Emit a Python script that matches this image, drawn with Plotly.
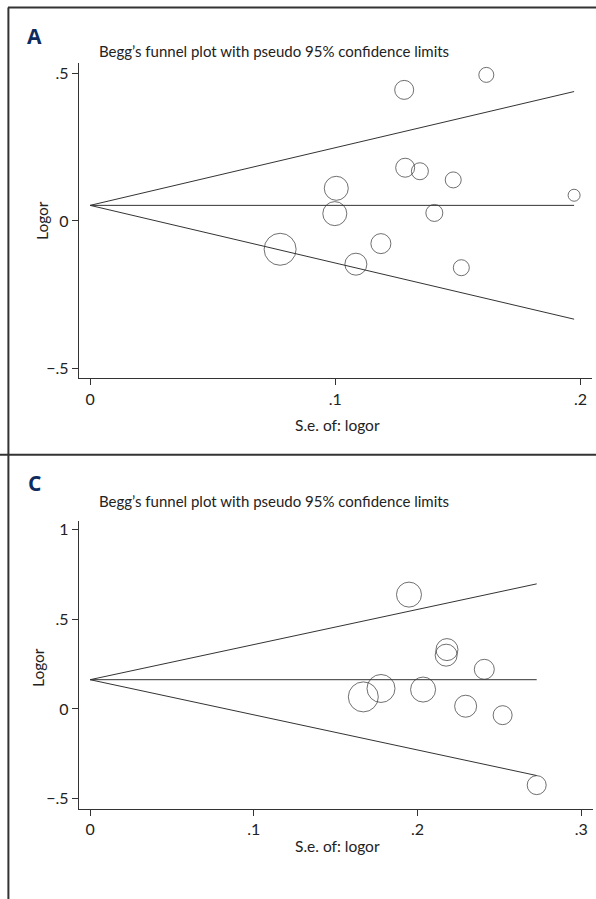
import plotly.graph_objects as go

# ---------------- data ----------------
# Panel A
a_se = [0.1616, 0.1281, 0.1285, 0.1345, 0.1481, 0.1974, 0.1004, 0.0998, 0.1404, 0.0775, 0.1186, 0.1084, 0.1514]
a_logor = [0.4966, 0.4456, 0.181, 0.169, 0.1395, 0.0874, 0.111, 0.0249, 0.0272, -0.0963, -0.0771, -0.147, -0.159]
a_weight = [15, 19, 19, 17, 16, 12, 24, 24, 17, 32, 20, 22, 16]
a_funnel_se = [0.0, 0.1974]
a_center = [0.053, 0.053]
a_upper = [0.053, 0.440]
a_lower = [0.053, -0.334]
a_xticks = [0.0, 0.1, 0.2]
a_xticktext = ["0", ".1", ".2"]
a_yticks = [-0.5, 0.0, 0.5]
a_yticktext = ["\u2212.5", "0", ".5"]

# Panel C
c_se = [0.1948, 0.2180, 0.2175, 0.2408, 0.1777, 0.1669, 0.2034, 0.2294, 0.2520, 0.2728]
c_logor = [0.638, 0.331, 0.300, 0.221, 0.114, 0.067, 0.108, 0.015, -0.035, -0.4255]
c_weight = [25, 22, 22, 20, 28, 30, 25, 22, 19, 19]
c_funnel_se = [0.0, 0.2728]
c_center = [0.163, 0.163]
c_upper = [0.163, 0.698]
c_lower = [0.163, -0.372]
c_xticks = [0.0, 0.1, 0.2, 0.3]
c_xticktext = ["0", ".1", ".2", ".3"]
c_yticks = [-0.5, 0.0, 0.5, 1.0]
c_yticktext = ["\u2212.5", "0", ".5", "1"]

title_text = "Begg\u2019s funnel plot with pseudo 95% confidence limits"
xtitle = "S.e. of: logor"
ytitle = "Logor"

# ---------------- styling ----------------
W, H = 596, 899
FONT = "Lato, Noto Sans, sans-serif"
INK = "#333333"
TXT = "#222222"
NAVY = "#0d2b5e"


def px(x):
    return x / W


def py(y):
    return 1 - y / H


fig = go.Figure()


def add_panel(se, logor, weight, fse, center, upper, lower, xa, ya):
    for yy in (upper, center, lower):
        fig.add_trace(go.Scatter(x=fse, y=yy, mode="lines", xaxis=xa, yaxis=ya,
                                 line=dict(color=INK, width=1), showlegend=False,
                                 hoverinfo="skip"))
    fig.add_trace(go.Scatter(x=se, y=logor, mode="markers", xaxis=xa, yaxis=ya,
                             marker=dict(symbol="circle-open", size=weight,
                                         color=INK, line=dict(color=INK, width=1)),
                             showlegend=False))


add_panel(a_se, a_logor, a_weight, a_funnel_se, a_center, a_upper, a_lower, "x", "y")
add_panel(c_se, c_logor, c_weight, c_funnel_se, c_center, c_upper, c_lower, "x2", "y2")

axis_common = dict(showline=True, linecolor=INK, linewidth=1, showgrid=False,
                   zeroline=False, ticks="outside", ticklen=6, tickwidth=1,
                   tickcolor=INK, tickfont=dict(family=FONT, size=16, color=TXT),
                   tickmode="array")

fig.update_layout(
    width=W, height=H,
    margin=dict(l=0, r=0, t=0, b=0),
    paper_bgcolor="white", plot_bgcolor="white",
    xaxis=dict(domain=[px(78.7), px(592)], range=[-0.00465, 0.2047],
               tickvals=a_xticks, ticktext=a_xticktext, anchor="y", **axis_common),
    yaxis=dict(domain=[py(378.3), py(63.3)], range=[-0.535, 0.536],
               tickvals=a_yticks, ticktext=a_yticktext, anchor="x", **axis_common),
    xaxis2=dict(domain=[px(78.7), px(593)], range=[-0.00696, 0.3072],
                tickvals=c_xticks, ticktext=c_xticktext, anchor="y2", **axis_common),
    yaxis2=dict(domain=[py(808.5), py(520.8)], range=[-0.556, 1.050],
                tickvals=c_yticks, ticktext=c_yticktext, anchor="x2", **axis_common),
)

# frame lines
frame = dict(color=INK, width=2)
fig.add_shape(type="line", xref="paper", yref="paper", x0=px(8), x1=px(596), y0=py(7.5), y1=py(7.5), line=frame)
fig.add_shape(type="line", xref="paper", yref="paper", x0=px(8.4), x1=px(8.4), y0=py(7.5), y1=py(899), line=frame)
fig.add_shape(type="line", xref="paper", yref="paper", x0=px(0), x1=px(596), y0=py(454.7), y1=py(454.7), line=frame)

ann_font = dict(family=FONT, size=15.5, color=TXT)
title_font = dict(family=FONT, size=15, color=TXT)
letter_font = dict(family="Open Sans, Liberation Sans, sans-serif", size=21, color=NAVY)
annotations = [
    # panel letters
    dict(text="<b>A</b>", x=px(34.5), y=py(36), font=letter_font),
    dict(text="<b>C</b>", x=px(34.5), y=py(483), font=letter_font),
    # titles
    dict(text=title_text, x=px(96.5), y=py(51), xanchor="left", font=title_font),
    dict(text=title_text, x=px(96.5), y=py(501), xanchor="left", font=title_font),
    # axis titles
    dict(text=xtitle, x=px(337.5), y=py(425), font=ann_font),
    dict(text=xtitle, x=px(337.5), y=py(846), font=ann_font),
    dict(text=ytitle, x=px(42), y=py(221), textangle=-90, font=ann_font),
    dict(text=ytitle, x=px(38), y=py(668), textangle=-90, font=ann_font),
]
for a in annotations:
    a.setdefault("xanchor", "center")
    fig.add_annotation(xref="paper", yref="paper", yanchor="middle", showarrow=False, **a)

fig.write_html("out.html", config={"displayModeBar": False},
               post_script="document.body.style.margin='0';document.body.style.overflow='hidden';")
